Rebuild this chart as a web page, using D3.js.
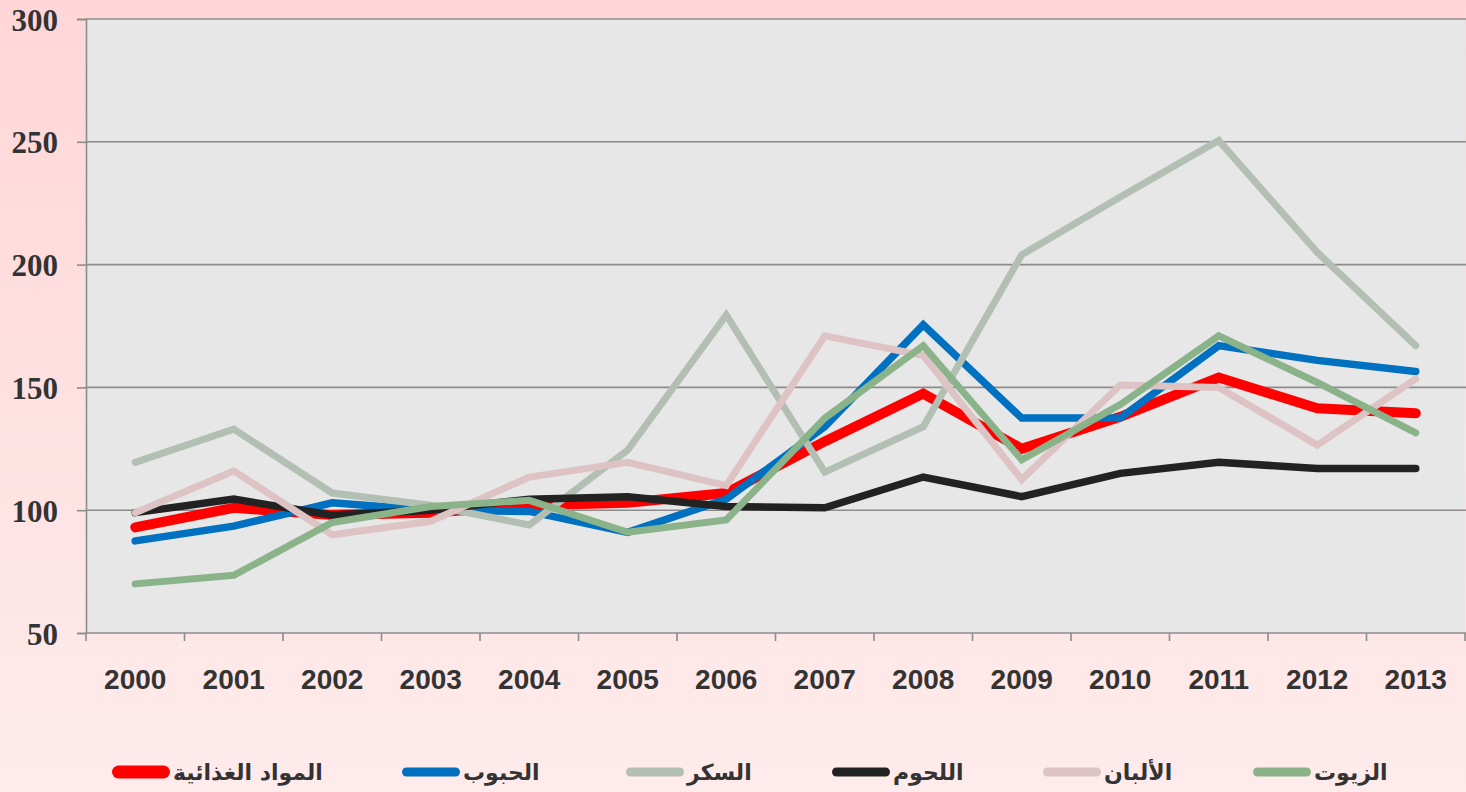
<!DOCTYPE html>
<html>
<head>
<meta charset="utf-8">
<script src="https://cdn.jsdelivr.net/npm/d3@7"></script>
<style>
  html, body { margin: 0; padding: 0; overflow: hidden; }
</style>
</head>
<body>
<script>
// data
var years = ["2000","2001","2002","2003","2004","2005","2006","2007","2008","2009","2010","2011","2012","2013"];
var food   = [93, 101, 98, 99, 102, 103, 107, 128, 147.5, 125, 138, 154, 141.5, 139.5];
var grains = [87.5, 93.5, 103, 100, 99.5, 91, 104.5, 134, 175.5, 137.5, 137.5, 167, 161, 156.5];
var sugar  = [119.5, 133, 107, 102, 94, 124.5, 179.5, 115.5, 134, 204, 227.5, 250.5, 205, 167];
var meat   = [99, 104.5, 98, 100, 104.5, 105.5, 101.5, 101, 113.5, 105.5, 115, 119.5, 117, 117];
var dairy  = [99, 116, 90, 95.5, 113.5, 119.5, 110, 171, 163, 112.5, 151, 150, 126.5, 153.5];
var oils   = [70, 73.5, 95, 101.5, 104, 91, 96, 137.5, 167, 120.5, 143, 171, 152, 131.5];
var yTicks = [50, 100, 150, 200, 250, 300];
var names  = ["المواد الغذائية", "الحبوب", "السكر", "اللحوم", "الألبان", "الزيوت"];

var series = [
  {name: names[0], values: food,   color: "#ff0000", width: 10,  legendW: 13},
  {name: names[1], values: grains, color: "#0070c0", width: 7.5, legendW: 9},
  {name: names[2], values: sugar,  color: "#b4bfb4", width: 7,   legendW: 9},
  {name: names[3], values: meat,   color: "#222222", width: 7.5, legendW: 9},
  {name: names[4], values: dairy,  color: "#dec3c5", width: 7,   legendW: 9},
  {name: names[5], values: oils,   color: "#8ab38a", width: 7,   legendW: 9}
];
// legend swatch start positions
var legendX = [112, 402, 626, 832, 1043, 1253];

var w = 1466, h = 792;
var padL = 86, padT = 19, padR = 1465, padB = 633;

var svg = d3.select("body").append("svg")
  .attr("width", w)
  .attr("height", h);

var defs = svg.append("defs");
var grad = defs.append("linearGradient")
  .attr("id", "bg").attr("x1", 0).attr("y1", 0).attr("x2", 0).attr("y2", 1);
grad.append("stop").attr("offset", "0%").attr("stop-color", "#ffd6d7");
grad.append("stop").attr("offset", "100%").attr("stop-color", "#feebeb");

svg.append("rect").attr("width", w).attr("height", h).attr("fill", "url(#bg)");

var x = d3.scaleBand().domain(years).range([padL, padR]);
var y = d3.scaleLinear().domain([50, 300]).range([padB, padT]);

// plot area
svg.append("rect")
  .attr("x", padL).attr("y", padT)
  .attr("width", padR - padL).attr("height", padB - padT)
  .attr("fill", "#e7e7e7");

// gridlines
svg.selectAll(".grid")
  .data(yTicks)
  .enter()
  .append("line")
  .attr("x1", padL).attr("x2", w)
  .attr("y1", function(d) { return y(d); })
  .attr("y2", function(d) { return y(d); })
  .attr("stroke", "#8c8c8c")
  .attr("stroke-width", 1.6);

// y axis
var yAxis = svg.append("g")
  .attr("transform", "translate(" + padL + ",0)")
  .call(d3.axisLeft(y).tickValues(yTicks).tickSize(9).tickPadding(19));
yAxis.select(".domain").attr("stroke", "#8c8c8c").attr("stroke-width", 1.6);
yAxis.selectAll(".tick line").attr("stroke", "#8c8c8c").attr("stroke-width", 1.6);
yAxis.selectAll(".tick text")
  .attr("font-family", "'Liberation Serif', 'Times New Roman', serif")
  .attr("font-weight", "bold")
  .attr("font-size", 31)
  .attr("fill", "#333333")
  .attr("dy", "0.36em");

// x axis
var xAxis = svg.append("g")
  .attr("transform", "translate(0," + padB + ")")
  .call(d3.axisBottom(x).tickSize(0).tickPadding(36));
xAxis.select(".domain").remove();
xAxis.selectAll(".tick text")
  .attr("font-family", "'Liberation Sans', Arial, sans-serif")
  .attr("font-weight", "bold")
  .attr("font-size", 28)
  .attr("fill", "#333333");

// category boundary ticks
var bounds = years.map(function(d) { return x(d); }).concat([padR]);
svg.selectAll(".xtick")
  .data(bounds)
  .enter()
  .append("line")
  .attr("x1", function(d) { return d; })
  .attr("x2", function(d) { return d; })
  .attr("y1", padB).attr("y2", padB + 8)
  .attr("stroke", "#8c8c8c")
  .attr("stroke-width", 1.6);

// lines
var line = d3.line()
  .x(function(d, i) { return x(years[i]) + x.bandwidth() / 2; })
  .y(function(d) { return y(d); });

svg.selectAll(".series")
  .data(series)
  .enter()
  .append("path")
  .attr("d", function(d) { return line(d.values); })
  .attr("fill", "none")
  .attr("stroke", function(d) { return d.color; })
  .attr("stroke-width", function(d) { return d.width; })
  .attr("stroke-linejoin", "miter")
  .attr("stroke-linecap", "round");

// legend
var legend = svg.selectAll(".legend")
  .data(series)
  .enter()
  .append("g")
  .attr("transform", function(d, i) { return "translate(" + legendX[i] + ",772)"; });

legend.append("line")
  .attr("x1", function(d) { return d.legendW / 2; })
  .attr("x2", function(d) { return 58 - d.legendW / 2; })
  .attr("y1", 0).attr("y2", 0)
  .attr("stroke", function(d) { return d.color; })
  .attr("stroke-width", function(d) { return d.legendW; })
  .attr("stroke-linecap", "round");

legend.append("text")
  .attr("x", 61)
  .attr("y", 8)
  .attr("font-family", "'DejaVu Sans', sans-serif")
  .attr("font-weight", "bold")
  .attr("font-size", 22)
  .attr("fill", "#333333")
  .text(function(d) { return d.name; });
</script>
</body>
</html>
